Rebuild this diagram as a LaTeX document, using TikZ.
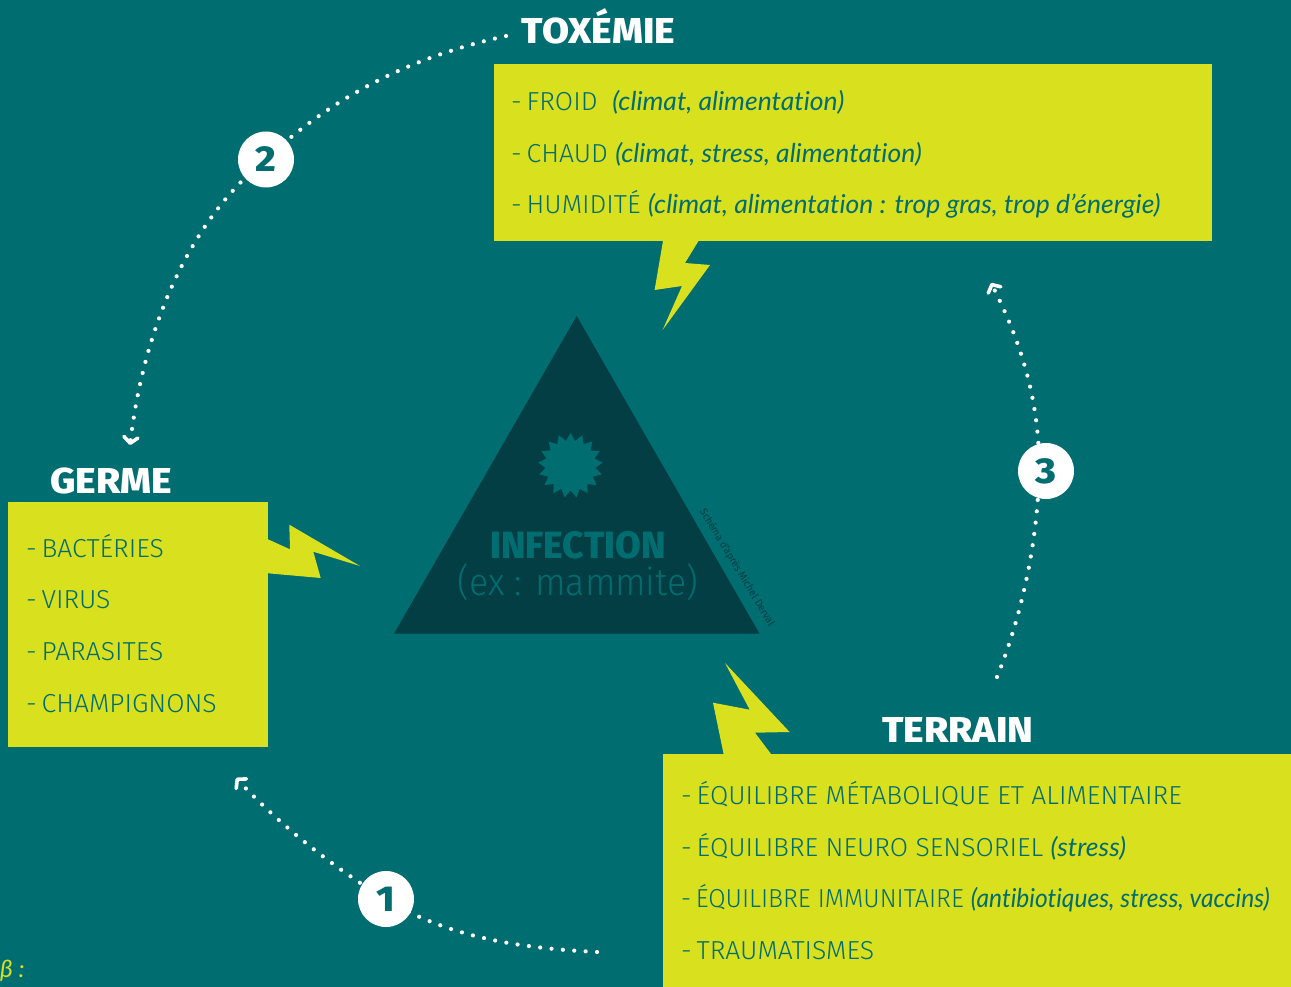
\documentclass[tikz,border=0pt]{standalone}
\usepackage{fontspec}
\usetikzlibrary{arrows.meta,shapes.geometric}
\setmainfont{Fira Sans}
\newfontfamily\listfont[FakeStretch=1.02]{Fira Sans Light}
\newfontfamily\listnarrow[FakeStretch=0.965]{Fira Sans Light}
\newfontfamily\bigfont[FakeStretch=0.94]{Fira Sans Light}
\newfontfamily\credfont[FakeStretch=0.95]{Fira Sans}
\newfontfamily\handfont[FakeStretch=1.02,Ligatures=NoCommon]{Lato Italic}
\newfontfamily\handnarrow[FakeStretch=0.945,Ligatures=NoCommon]{Lato Italic}
\newfontfamily\headfont[FakeStretch=1.09]{Fira Sans ExtraBold}
\newfontfamily\inffont[FakeStretch=0.98]{Fira Sans ExtraBold}
\newfontfamily\numfont[FakeStretch=1.1]{Fira Sans ExtraBold}
\definecolor{bgteal}{HTML}{006D70}
\definecolor{lime}{HTML}{D9E01E}
\definecolor{darkteal}{HTML}{023E43}
\newcommand{\hnd}[1]{{\handfont #1}}
\newcommand{\dsh}{-\kern-2.5pt\ }
\tikzset{
  panel/.style={fill=lime,draw=none},
  bolt/.style={fill=lime,draw=none},
  head/.style={text=white,font=\headfont\fontsize{36}{36}\selectfont,anchor=base,inner sep=0pt},
  item/.style={text=bgteal,font=\listfont\fontsize{26}{26}\selectfont,anchor=base west,inner sep=0pt},
  badge/.style={circle,fill=white,minimum size=56pt,inner sep=0pt,text=bgteal,font=\numfont\fontsize{36}{36}\selectfont},
  dotline/.style={white,line width=4.2pt,line cap=round,dash pattern=on 0pt off 11.4pt},
  tip/.style={-{Straight Barb[length=6pt,width=14pt,line width=3.6pt,round=false]}}
}
\begin{document}
\begin{tikzpicture}[x=1pt,y=-1pt]
\useasboundingbox (0,0) rectangle (1291,987);
\fill[bgteal] (0,0) rectangle (1291,987);

% triangle
\fill[darkteal] (576.7,316) -- (394,633.7) -- (759.5,633.7) -- cycle;
\node[star,star points=17,star point ratio=1.3,fill=bgteal,minimum size=65pt,inner sep=0pt] (burst) at (570.5,465.5) {};
\node[text=bgteal,font=\inffont\fontsize{38}{38}\selectfont,anchor=base,inner sep=0pt] (inf) at (578,558) {INFECTION};
\node[text=bgteal,font=\bigfont\fontsize{38}{38}\selectfont,anchor=base,inner sep=0pt] (ex) at (578,595) {(ex : mammite)};
\node[text=darkteal,font=\credfont\fontsize{10.5}{10.5}\selectfont,rotate=-59,inner sep=0pt] (credit) at (737,567.5) {Schéma d’après Michel Derval};

% toxemie
\fill[bolt] (663,241) -- (698.5,241) -- (685,263) -- (710,265) -- (662.6,330) -- (682,286) -- (654.6,290) -- cycle;
\node[panel,anchor=north west,minimum width=718pt,minimum height=177pt,inner sep=0pt] (tox) at (494,64) {};
\node[head] (toxh) at (598.5,44) {TOXÉMIE};
\node[item] (t1) at (511,111) {\dsh FROID \ \hnd{(climat, alimentation)}};
\node[item] (t2) at (511,163) {\dsh CHAUD \hnd{(climat, stress, alimentation)}};
\node[item] (t3) at (511,214) {\dsh HUMIDITÉ \hnd{(climat, alimentation : trop gras, trop d’énergie)}};

% germe
\fill[bolt] (268,539.3) -- (290,549.3) -- (289.3,524.7) -- (360,566) -- (313.3,551.7) -- (320.7,578) -- (268,573.3) -- cycle;
\node[panel,anchor=north west,minimum width=260pt,minimum height=245pt,inner sep=0pt] (germ) at (8,502) {};
\node[head] (germh) at (111,493) {GERME};
\node[item] (g1) at (26,557) {\dsh BACTÉRIES};
\node[item] (g2) at (26,608) {\dsh VIRUS};
\node[item] (g3) at (26,660) {\dsh PARASITES};
\node[item] (g4) at (26,712) {\dsh CHAMPIGNONS};

% terrain
\fill[bolt] (723.6,754) -- (713,702.7) -- (749.7,709.7) -- (725,663) -- (789.6,732) -- (755,732.7) -- (771,754) -- cycle;
\node[panel,anchor=north west,minimum width=628pt,minimum height=233pt,inner sep=0pt] (terr) at (663,754) {};
\node[head] (terrh) at (958,742) {TERRAIN};
\node[item] (r1) at (681,804) {\dsh ÉQUILIBRE MÉTABOLIQUE ET ALIMENTAIRE};
\node[item] (r2) at (681,856) {\dsh ÉQUILIBRE NEURO SENSORIEL \hnd{(stress)}};
\node[item] (r3) at (681,907) {\listnarrow\dsh ÉQUILIBRE IMMUNITAIRE {\handnarrow (antibiotiques, stress, vaccins)}};
\node[item] (r4) at (681,959) {\dsh TRAUMATISMES};

% connectors
\coordinate (a1) at (597,952); \coordinate (m1) at (386,899.5); \coordinate (e1) at (236,778);
\coordinate (a2) at (506,36);  \coordinate (m2) at (265.5,159.5); \coordinate (e2) at (130,445);
\coordinate (a3) at (997,677); \coordinate (m3) at (1039,471);  \coordinate (e3) at (991,283);
\draw[dotline,tip] (a1) .. controls (520,948) and (450,938) .. (m1) .. controls (330,865) and (280,825) .. (e1);
\draw[dotline,tip] (a2) .. controls (420,55) and (340,90) .. (m2) .. controls (185,225) and (143,335) .. (e2);
\draw[dotline,tip] (a3) .. controls (1022,615) and (1038,540) .. (m3) .. controls (1040,400) and (1020,340) .. (e3);
\node[badge] (b1) at (386,899) {1};
\node[badge] (b2) at (266,159.5) {2};
\node[badge] (b3) at (1046,471) {3};

\node[text=lime,font=\handfont\fontsize{24}{24}\selectfont,anchor=base west,inner sep=0pt] (beta) at (0,977) {β :};
\end{tikzpicture}
\end{document}
